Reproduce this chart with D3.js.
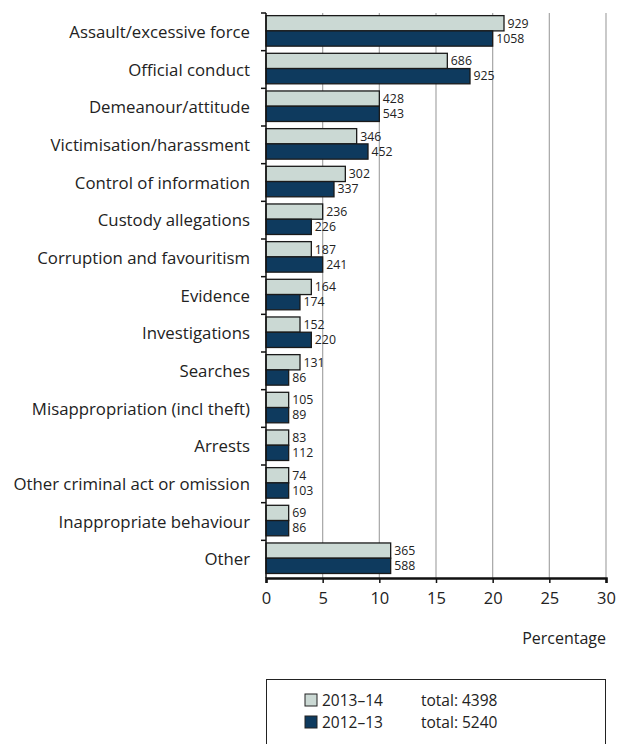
<!DOCTYPE html>
<html>
<head>
<meta charset="utf-8">
<script src="https://cdn.jsdelivr.net/npm/d3@7"></script>
<style>
  html, body { margin: 0; padding: 0; background: #fff; }
  svg { display: block; font-family: "Open Sans", "Noto Sans", sans-serif; }
</style>
</head>
<body>
<svg id="chart" width="617" height="744"></svg>
<script>
// Complaint categories, top to bottom
const categories = [
  "Assault/excessive force", "Official conduct", "Demeanour/attitude",
  "Victimisation/harassment", "Control of information", "Custody allegations",
  "Corruption and favouritism", "Evidence", "Investigations", "Searches",
  "Misappropriation (incl theft)", "Arrests", "Other criminal act or omission",
  "Inappropriate behaviour", "Other"
];

// Share of all allegations (%), per year
const pct2013 = [21, 16, 10, 8, 7, 5, 4, 4, 3, 3, 2, 2, 2, 2, 11];
const pct2012 = [20, 18, 10, 9, 6, 4, 5, 3, 4, 2, 2, 2, 2, 2, 11];

// Number of allegations, per year
const count2013 = [929, 686, 428, 346, 302, 236, 187, 164, 152, 131, 105, 83, 74, 69, 365];
const count2012 = [1058, 925, 543, 452, 337, 226, 241, 174, 220, 86, 89, 112, 103, 86, 588];

const xTicks = [0, 5, 10, 15, 20, 25, 30];
const seriesNames = ["2013\u201314", "2012\u201313"];
const totals = [4398, 5240];

const colors = ["#cbd9d4", "#0e3a5e"];

const svg = d3.select("#chart");
const margin = { left: 266, right: 11, top: 13, bottom: 166 };
const W = 617, H = 744;
const plotW = W - margin.left - margin.right;
const plotH = H - margin.top - margin.bottom;

const x = d3.scaleLinear().domain([0, 30]).range([margin.left, margin.left + plotW]);
const y = d3.scaleBand().domain(categories).range([margin.top, margin.top + plotH]).padding(0);

const band = y.bandwidth();
const barH = band * 0.405;
const barOff = band * 0.07;

// vertical grid lines
svg.append("g").selectAll("line").data(xTicks.slice(1)).join("line")
  .attr("x1", d => x(d)).attr("x2", d => x(d))
  .attr("y1", margin.top).attr("y2", margin.top + plotH)
  .attr("stroke", "#a6a6a6").attr("stroke-width", 1.2);

const rows = categories.map((c, i) => ({
  c, vals: [pct2013[i], pct2012[i]], counts: [count2013[i], count2012[i]]
}));

const g = svg.append("g");
rows.forEach(r => {
  [0, 1].forEach(s => {
    const top = y(r.c) + barOff + s * barH;
    g.append("rect")
      .attr("x", x(0)).attr("y", top)
      .attr("width", x(r.vals[s]) - x(0)).attr("height", barH)
      .attr("fill", colors[s]).attr("stroke", "#1a1a1a").attr("stroke-width", 1.3);
    g.append("text")
      .attr("x", x(r.vals[s]) + 3.5).attr("y", top + barH / 2)
      .attr("dy", "0.35em")
      .attr("font-size", 12.3).attr("fill", "#222")
      .text(r.counts[s]);
  });
});

// left axis with ticks at category boundaries
const yAxis = svg.append("g");
yAxis.append("line")
  .attr("x1", x(0)).attr("x2", x(0))
  .attr("y1", margin.top).attr("y2", margin.top + plotH)
  .attr("stroke", "#111").attr("stroke-width", 1.5);
yAxis.selectAll("line.tk").data(categories).join("line").attr("class", "tk")
  .attr("x1", x(0) - 5).attr("x2", x(0))
  .attr("y1", d => y(d)).attr("y2", d => y(d))
  .attr("stroke", "#111").attr("stroke-width", 1.5);
yAxis.selectAll("text").data(categories).join("text")
  .attr("x", 250).attr("y", d => y(d) + band / 2)
  .attr("dy", "0.36em").attr("text-anchor", "end")
  .attr("font-size", 16.8).attr("fill", "#222")
  .text(d => d);

// bottom axis
const xAxis = d3.axisBottom(x).tickValues(xTicks).tickSize(5).tickPadding(9);
const xg = svg.append("g")
  .attr("transform", `translate(0,${margin.top + plotH})`)
  .call(xAxis);
xg.select(".domain").attr("stroke", "#111").attr("stroke-width", 2.5);
xg.selectAll(".tick line").attr("stroke", "#111").attr("stroke-width", 1.5);
xg.selectAll(".tick text").attr("font-size", 16.5).attr("fill", "#222")
  .attr("font-family", "\"Open Sans\", sans-serif");

svg.append("text")
  .attr("x", x(30)).attr("y", 644)
  .attr("text-anchor", "end").attr("font-size", 16).attr("fill", "#222")
  .text("Percentage");

// legend
const lg = svg.append("g");
lg.append("rect")
  .attr("x", 266.5).attr("y", 679.5).attr("width", 339).attr("height", 80)
  .attr("fill", "#fff").attr("stroke", "#222").attr("stroke-width", 1);
seriesNames.forEach((n, i) => {
  const cy = 700 + i * 22;
  lg.append("rect")
    .attr("x", 305).attr("y", cy - 6).attr("width", 12).attr("height", 12)
    .attr("fill", colors[i]).attr("stroke", "#222").attr("stroke-width", 1);
  lg.append("text")
    .attr("x", 322).attr("y", cy).attr("dy", "0.36em")
    .attr("font-size", 15.5).attr("fill", "#222").text(n);
  lg.append("text")
    .attr("x", 421).attr("y", cy).attr("dy", "0.36em")
    .attr("font-size", 15.5).attr("fill", "#222").text("total: " + totals[i]);
});
</script>
</body>
</html>
